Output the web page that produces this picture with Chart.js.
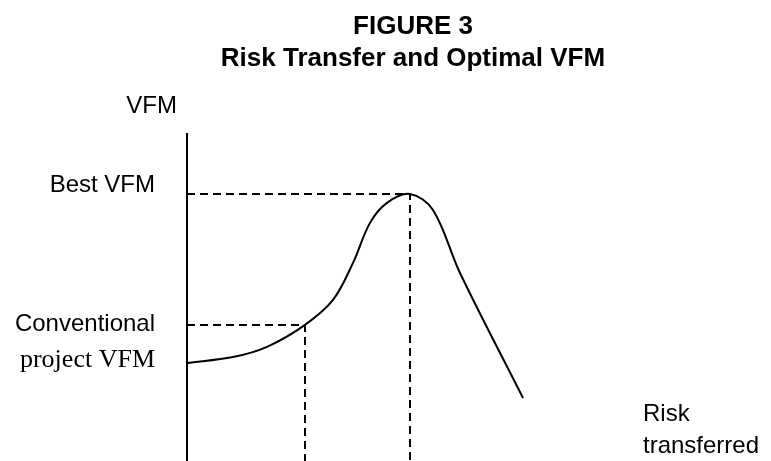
<!DOCTYPE html>
<html>
<head>
<meta charset="utf-8">
<script src="https://cdn.jsdelivr.net/npm/chart.js@4/dist/chart.umd.min.js"></script>
<style>
  html, body { margin: 0; padding: 0; background: #fff; }
  #wrap { width: 771px; height: 461px; }
</style>
</head>
<body>
<div id="wrap"><canvas id="vfmChart"></canvas></div>
<script>
// ===========================
// DATA
// ===========================

// VFM curve: risk transferred (x) vs VFM (y), arbitrary units 0-100
const riskTransferred = [0, 9.2, 16, 23.6, 29.2, 33.2, 36.6, 40, 44.6, 49.2, 54.6, 67.2];
const vfmValues = [29.9, 31.7, 34.8, 41.5, 49.1, 60.4, 72.6, 78.7, 81.4, 76.5, 57.3, 19.2];

// Reference points [risk, VFM]
const conventionalPoint = [23.6, 41.5];
const bestPoint = [44.6, 81.4];

// Axis range
const axisMax = [100, 100];

// Text
const titleLines = ["FIGURE 3", "Risk Transfer and Optimal VFM"];
const yAxisLabel = "VFM";
const xAxisLabel = ["Risk", "transferred"];
const bestLabel = "Best VFM";
const conventionalLabel = ["Conventional", "project VFM"];

// ===========================
// HELPERS
// ===========================

const curve = riskTransferred.map((x, i) => ({ x: x, y: vfmValues[i] }));

function guide(point){
    return [
        { x: 0, y: point[1] },
        { x: point[0], y: point[1] },
        { x: point[0], y: 0 }
    ];
}

// Labels drawn next to the scales
const labelPlugin = {
    id: "labels",
    afterDraw(chart){
        const ctx = chart.ctx;
        const xs = chart.scales.x;
        const ys = chart.scales.y;
        const axisX = xs.getPixelForValue(0);
        const top = ys.getPixelForValue(axisMax[1]);

        ctx.save();
        ctx.fillStyle = "#000";
        ctx.textBaseline = "middle";

        // Title
        ctx.textAlign = "center";
        ctx.font = "bold 26px 'Liberation Sans', Arial, sans-serif";
        ctx.fillText(titleLines[0], 413, 27);
        ctx.fillText(titleLines[1], 413, 59);

        // Y label
        ctx.font = "24px 'Liberation Sans', Arial, sans-serif";
        ctx.textAlign = "right";
        ctx.fillText(yAxisLabel, axisX - 10, top - 27);

        // Best VFM
        const bestY = ys.getPixelForValue(bestPoint[1]);
        ctx.fillText(bestLabel, axisX - 32, bestY - 9);

        // Conventional project VFM
        const convY = ys.getPixelForValue(conventionalPoint[1]);
        ctx.fillText(conventionalLabel[0], axisX - 32, convY - 1);
        ctx.font = "26px 'Liberation Serif', 'Times New Roman', serif";
        ctx.fillText(conventionalLabel[1], axisX - 32, convY + 35);

        // X label
        ctx.font = "24px 'Liberation Sans', Arial, sans-serif";
        ctx.textAlign = "left";
        const labelX = xs.getPixelForValue(91.2);
        ctx.fillText(xAxisLabel[0], labelX, chart.chartArea.bottom - 47);
        ctx.fillText(xAxisLabel[1], labelX, chart.chartArea.bottom - 15);

        ctx.restore();
    }
};

// ===========================
// CHART
// ===========================

new Chart(document.getElementById("vfmChart"),{

    type:"line",

    data:{

        datasets:[
            {
                label:"VFM",
                data:curve,
                borderColor:"#000",
                borderWidth:2,
                pointRadius:0,
                tension:0.35,
                fill:false
            },
            {
                label:"Best VFM",
                data:guide(bestPoint),
                borderColor:"#000",
                borderWidth:2,
                borderDash:[8,5],
                pointRadius:0,
                tension:0
            },
            {
                label:"Conventional",
                data:guide(conventionalPoint),
                borderColor:"#000",
                borderWidth:2,
                borderDash:[8,5],
                pointRadius:0,
                tension:0
            },
            {
                label:"Axis",
                data:[{ x: 0, y: 0 }, { x: 0, y: axisMax[1] }],
                borderColor:"#000",
                borderWidth:2,
                pointRadius:0
            }
        ]

    },

    options:{

        responsive:true,
        maintainAspectRatio:false,
        animation:false,

        layout:{
            padding:{ top:133, left:187, right:84, bottom:0 }
        },

        scales:{
            x:{
                type:"linear",
                display:false,
                min:0,
                max:axisMax[0]
            },
            y:{
                type:"linear",
                display:false,
                min:0,
                max:axisMax[1]
            }
        },

        plugins:{
            legend:{ display:false },
            tooltip:{ enabled:false }
        },

        datasets:{
            line:{ clip:false }
        }

    },

    plugins:[labelPlugin]

});
</script>
</body>
</html>
